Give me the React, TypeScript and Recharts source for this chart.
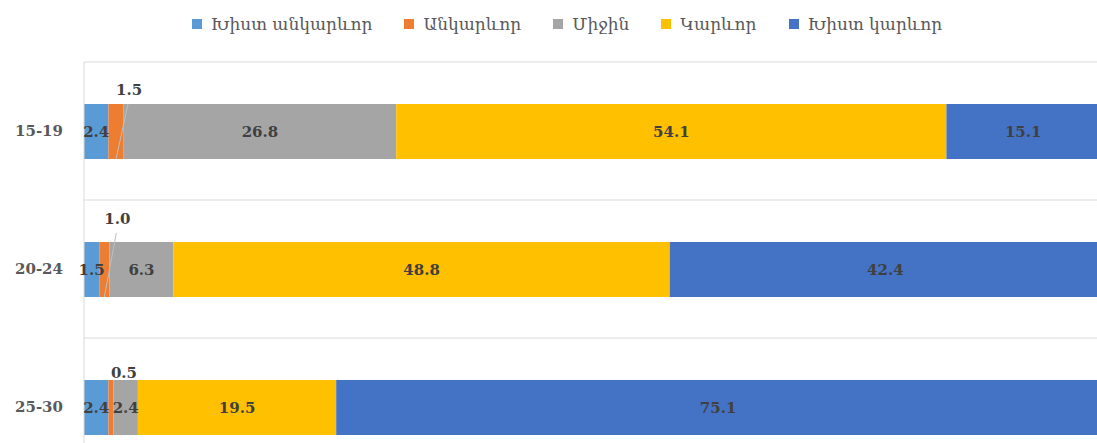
import React from 'react';
import { BarChart, Bar, XAxis, YAxis, CartesianGrid, Legend, LabelList } from 'recharts';

const categories = ['15-19', '20-24', '25-30'];
const seriesNames = ['Խիստ անկարևոր', 'Անկարևոր', 'Միջին', 'Կարևոր', 'Խիստ կարևոր'];
const veryUnimportant = [2.4, 1.5, 2.4];
const unimportant = [1.5, 1.0, 0.5];
const medium = [26.8, 6.3, 2.4];
const important = [54.1, 48.8, 19.5];
const veryImportant = [15.1, 42.4, 75.1];

const colors = ['#5B9BD5', '#ED7D31', '#A5A5A5', '#FFC000', '#4472C4'];
const keys = ['s0', 's1', 's2', 's3', 's4'];
const seriesValues = [veryUnimportant, unimportant, medium, important, veryImportant];

const data = categories.map((cat, i) => {
  const row: any = { cat };
  keys.forEach((k, j) => {
    row[k] = seriesValues[j][i];
  });
  return row;
});

const FONT = "'DejaVu Serif', 'Liberation Serif', serif";
const LABEL_COLOR = '#404040';

const getBox = (props: any) => {
  const vb = props.viewBox || {};
  return {
    x: props.x ?? vb.x,
    y: props.y ?? vb.y,
    width: props.width ?? vb.width,
    height: props.height ?? vb.height,
  };
};

const centerLabel = (props: any) => {
  const { x, y, width, height } = getBox(props);
  const v = props.value;
  return (
    <text
      x={x + width / 2}
      y={y + height / 2}
      textAnchor="middle"
      dominantBaseline="central"
      fill={LABEL_COLOR}
      fontFamily={FONT}
      fontWeight="bold"
      fontSize={15}
    >
      {Number(v).toFixed(1)}
    </text>
  );
};

const smallOffsets = [-9, -18, -2];

const outsideLabel = (props: any) => {
  const { x, y, width, height } = getBox(props);
  const v = Number(props.value);
  const idx = props.index ?? 0;
  const cx = x + width / 2;
  const dy = smallOffsets[idx] ?? -8;
  const showLine = v >= 1;
  return (
    <g>
      {showLine && (
        <line
          x1={cx + 12}
          y1={y + dy + 9}
          x2={cx}
          y2={y + height}
          stroke="#BFBFBF"
          strokeWidth={1}
        />
      )}
      <text
        x={cx + 13}
        y={y + dy}
        textAnchor="middle"
        fill={LABEL_COLOR}
        fontFamily={FONT}
        fontWeight="bold"
        fontSize={15}
      >
        {v.toFixed(1)}
      </text>
    </g>
  );
};

const renderLegend = () => (
  <div
    style={{
      display: 'flex',
      justifyContent: 'center',
      alignItems: 'center',
      fontFamily: FONT,
      fontSize: 17,
      color: '#595959',
      width: '100%',
    }}
  >
    {seriesNames.map((name, i) => (
      <div key={name} style={{ display: 'flex', alignItems: 'center', marginRight: i < seriesNames.length - 1 ? 32 : 0 }}>
        <span style={{ display: 'inline-block', width: 10, height: 10, background: colors[i], marginRight: 9 }} />
        <span>{name}</span>
      </div>
    ))}
  </div>
);

export default function App() {
  return (
    <div style={{ position: 'absolute', left: 0, top: 0, background: '#fff' }}>
      <BarChart
        width={1110}
        height={490}
        data={data}
        layout="vertical"
        margin={{ top: 62, right: 9, bottom: 14, left: 0 }}
        barSize={55}
      >
        <CartesianGrid
          vertical={false}
          stroke="#D9D9D9"
          horizontalCoordinatesGenerator={({ offset }: any) => {
            const n = categories.length;
            const arr: number[] = [];
            for (let i = 0; i <= n; i++) arr.push(offset.top + (offset.height * i) / n);
            return arr;
          }}
        />
        <XAxis type="number" domain={[0, 100]} hide />
        <YAxis
          type="category"
          dataKey="cat"
          width={84}
          tickLine={false}
          tickSize={0}
          tickMargin={21}
          axisLine={{ stroke: '#D9D9D9' }}
          tick={{ fill: '#595959', fontFamily: FONT, fontWeight: 'bold', fontSize: 15 }}
        />
        <Legend
          verticalAlign="middle"
          layout="horizontal"
          wrapperStyle={{ top: 14, left: 12, width: 1110 }}
          content={renderLegend}
        />
        {keys.map((k, j) => (
          <Bar
            key={k}
            dataKey={k}
            name={seriesNames[j]}
            stackId="a"
            fill={colors[j]}
            isAnimationActive={false}
          >
            <LabelList dataKey={k} content={j === 1 ? outsideLabel : centerLabel} />
          </Bar>
        ))}
      </BarChart>
    </div>
  );
}
